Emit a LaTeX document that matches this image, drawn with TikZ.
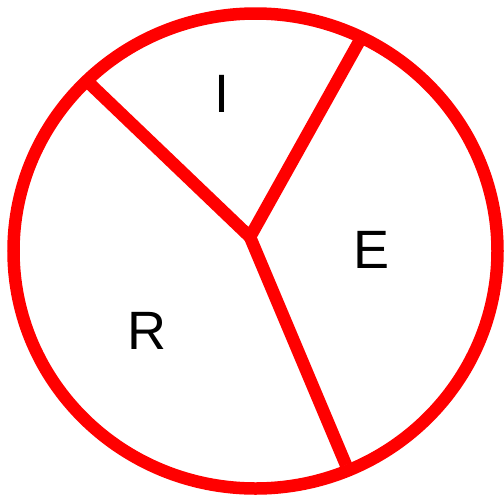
\documentclass[tikz,border=0pt]{standalone}
\usepackage{fontspec}
\setmainfont{Liberation Sans}
\begin{document}
\begin{tikzpicture}[x=1pt,y=-1pt,
  rim/.style={draw=red,line width=12.5pt},
  lbl/.style={font=\fontsize{54}{54}\selectfont,text=black,inner sep=0pt}]
\useasboundingbox (0,0) rectangle (504,496);
\draw[rim] (255.5,251) ellipse [x radius=242, y radius=237.5];
\coordinate (c) at (250,237);
\coordinate (a) at (88,82);
\coordinate (b) at (360,40);
\coordinate (d) at (346,465);
\draw[rim] (a) -- (c) -- (b);
\draw[rim] (c) -- (d);
\node[lbl] (i) at (222,93.5) {I};
\node[lbl] (e) at (372,250) {E};
\node[lbl] (r) at (147,331) {R};
\end{tikzpicture}
\end{document}
